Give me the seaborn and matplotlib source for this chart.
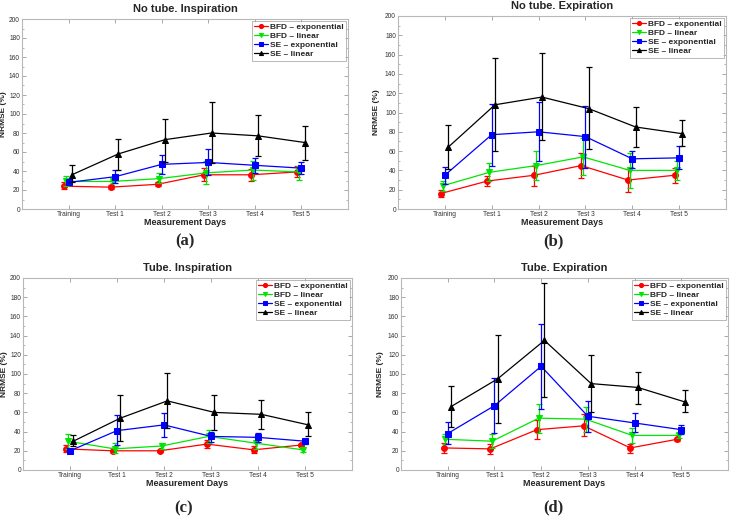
import numpy as np
import pandas as pd
import matplotlib
matplotlib.use("Agg")
import matplotlib.pyplot as plt
import seaborn as sns
from matplotlib.ticker import MultipleLocator

sns.set_theme(style="white")
plt.rcParams['font.family'] = ['Liberation Sans', 'DejaVu Sans']

days = ["Training", "Test 1", "Test 2", "Test 3", "Test 4", "Test 5"]
series = ["BFD \u2013 exponential", "BFD \u2013 linear", "SE \u2013 exponential", "SE \u2013 linear"]
panel_titles = ["No tube. Inspiration", "No tube. Expiration", "Tube. Inspiration", "Tube. Expiration"]
panel_tags = ["(a)", "(b)", "(c)", "(d)"]

# Panel (a): No tube. Inspiration  -- mean, lower bound, upper bound
a_bfd_exp = [24, 23, 26, 36, 36, 39]
a_bfd_exp_lo = [21, 21, 24, 29, 29, 34]
a_bfd_exp_hi = [28, 25, 28, 43, 42, 45]
a_bfd_lin = [29, 29, 32, 38, 41, 39]
a_bfd_lin_lo = [24, 27, 27, 26, 31, 31]
a_bfd_lin_hi = [35, 31, 38, 51, 51, 45]
a_se_exp = [28, 34, 47, 49, 46, 43]
a_se_exp_lo = [26, 27, 37, 36, 38, 37]
a_se_exp_hi = [30, 41, 57, 63, 54, 49]
a_se_lin = [36, 58, 73, 80, 77, 70]
a_se_lin_lo = [28, 41, 50, 48, 56, 52]
a_se_lin_hi = [46, 74, 95, 113, 99, 87]

# Panel (b): No tube. Expiration
b_bfd_exp = [16, 29, 35, 45, 30, 35]
b_bfd_exp_lo = [12, 24, 24, 32, 18, 27]
b_bfd_exp_hi = [20, 34, 45, 58, 41, 43]
b_bfd_lin = [24, 38, 45, 54, 40, 40]
b_bfd_lin_lo = [19, 29, 30, 35, 22, 30]
b_bfd_lin_hi = [29, 48, 60, 74, 58, 50]
b_se_exp = [35, 77, 80, 75, 52, 53]
b_se_exp_lo = [26, 45, 50, 43, 43, 41]
b_se_exp_hi = [44, 109, 111, 107, 60, 65]
b_se_lin = [64, 108, 116, 104, 85, 78]
b_se_lin_lo = [41, 60, 71, 62, 64, 65]
b_se_lin_hi = [87, 156, 162, 147, 106, 92]

# Panel (c): Tube. Inspiration
c_bfd_exp = [22, 20, 20, 27, 21, 26]
c_bfd_exp_lo = [19, 18, 19, 23, 18, 25]
c_bfd_exp_hi = [26, 23, 21, 31, 25, 27]
c_bfd_lin = [30, 22, 25, 35, 28, 21]
c_bfd_lin_lo = [22, 18, 22, 28, 22, 19]
c_bfd_lin_hi = [37, 28, 28, 42, 34, 24]
c_se_exp = [20, 41, 47, 35, 34, 30]
c_se_exp_lo = [18, 26, 34, 29, 29, 27]
c_se_exp_hi = [22, 57, 59, 40, 39, 32]
c_se_lin = [30, 54, 72, 60, 58, 47]
c_se_lin_lo = [25, 30, 44, 42, 43, 35]
c_se_lin_hi = [36, 78, 101, 78, 73, 60]

# Panel (d): Tube. Expiration
d_bfd_exp = [23, 22, 42, 46, 23, 32]
d_bfd_exp_lo = [18, 17, 32, 35, 18, 30]
d_bfd_exp_hi = [28, 27, 52, 58, 27, 33]
d_bfd_lin = [32, 30, 54, 53, 36, 36]
d_bfd_lin_lo = [27, 23, 39, 40, 28, 33]
d_bfd_lin_hi = [37, 37, 69, 66, 44, 39]
d_se_exp = [38, 67, 108, 56, 49, 42]
d_se_exp_lo = [27, 39, 64, 40, 40, 37]
d_se_exp_hi = [50, 96, 152, 72, 59, 47]
d_se_lin = [66, 95, 135, 90, 86, 71]
d_se_lin_lo = [45, 49, 76, 60, 69, 60]
d_se_lin_hi = [87, 141, 195, 120, 102, 83]

panels = [
    [(a_bfd_exp, a_bfd_exp_lo, a_bfd_exp_hi), (a_bfd_lin, a_bfd_lin_lo, a_bfd_lin_hi),
     (a_se_exp, a_se_exp_lo, a_se_exp_hi), (a_se_lin, a_se_lin_lo, a_se_lin_hi)],
    [(b_bfd_exp, b_bfd_exp_lo, b_bfd_exp_hi), (b_bfd_lin, b_bfd_lin_lo, b_bfd_lin_hi),
     (b_se_exp, b_se_exp_lo, b_se_exp_hi), (b_se_lin, b_se_lin_lo, b_se_lin_hi)],
    [(c_bfd_exp, c_bfd_exp_lo, c_bfd_exp_hi), (c_bfd_lin, c_bfd_lin_lo, c_bfd_lin_hi),
     (c_se_exp, c_se_exp_lo, c_se_exp_hi), (c_se_lin, c_se_lin_lo, c_se_lin_hi)],
    [(d_bfd_exp, d_bfd_exp_lo, d_bfd_exp_hi), (d_bfd_lin, d_bfd_lin_lo, d_bfd_lin_hi),
     (d_se_exp, d_se_exp_lo, d_se_exp_hi), (d_se_lin, d_se_lin_lo, d_se_lin_hi)],
]

colors = ["#ff0000", "#00e600", "#0000ff", "#000000"]
markers = ["o", "v", "s", "^"]
offsets = [-0.09, -0.05, 0.0, 0.07]

W, H = 731, 526
fig = plt.figure(figsize=(W / 100, H / 100), dpi=100)
fig.patch.set_facecolor("white")

boxes = [(22, 19, 348, 209), (398, 16, 726, 209), (23, 278, 352, 470), (401, 278, 728, 470)]
ylabel_x = [7, 380, 8, 384]
tag_pos = [(185, 241), (553, 241), (184, 508), (553, 507)]
frame_col = "#b8b8b8"

for p, (l, t, r, b) in enumerate(boxes):
    ax = fig.add_axes([l / W, 1 - b / H, (r - l) / W, (b - t) / H])
    ax.set_facecolor("white")
    xbase = np.arange(len(days))
    for s in range(4):
        mean, lo, hi = panels[p][s]
        mean = np.array(mean, float)
        x = xbase + offsets[s]
        df = pd.DataFrame({"x": x, "y": mean})
        sns.lineplot(data=df, x="x", y="y", ax=ax, color=colors[s], marker=markers[s],
                     markersize=4.2, markeredgecolor=colors[s], linewidth=0.9,
                     label=series[s], zorder=3 + s)
        yerr = np.vstack([mean - np.array(lo, float), np.array(hi, float) - mean])
        ax.errorbar(x, mean, yerr=yerr, fmt="none", ecolor=colors[s], elinewidth=0.9,
                    capsize=2.5, capthick=0.9, zorder=3 + s)
    ax.set_xlim(-1, 6)
    ax.set_ylim(0, 200)
    ax.set_xticks(xbase)
    ax.set_xticklabels(days)
    ax.yaxis.set_major_locator(MultipleLocator(20))
    ax.yaxis.set_minor_locator(MultipleLocator(10))
    ax.tick_params(axis="both", which="both", direction="in", top=True, right=True,
                   bottom=True, left=True, labelsize=4.8, colors="#999999",
                   labelcolor="#333333", pad=1.5)
    ax.tick_params(which="major", length=3, width=0.6)
    ax.tick_params(which="minor", length=1.5, width=0.5)
    for sp in ax.spines.values():
        sp.set_color(frame_col)
        sp.set_linewidth(0.8)
    ax.set_title(panel_titles[p], fontsize=8, fontweight="bold", pad=5)
    ax.set_xlabel("Measurement Days", fontsize=6.5, fontweight="bold", labelpad=0)
    ax.set_ylabel("NRMSE (%)", fontsize=6, fontweight="bold")
    ax.yaxis.set_label_coords((ylabel_x[p] - l) / (r - l), 0.5)
    ax.grid(False)
    leg = ax.legend(loc="upper right", prop={"weight": "bold", "size": 6},
                    frameon=True, fancybox=False, handlelength=1.6, handletextpad=0.3,
                    labelspacing=0.15, borderpad=0.3, borderaxespad=0.2,
                    markerscale=0.7)
    leg.get_frame().set_edgecolor("#999999")
    leg.get_frame().set_linewidth(0.6)
    fig.text(tag_pos[p][0] / W, 1 - tag_pos[p][1] / H, panel_tags[p], ha="center", va="center",
             fontsize=12, fontweight="bold", family=["Liberation Serif", "DejaVu Serif"])

fig.savefig("out.png", dpi=100, facecolor="white")
